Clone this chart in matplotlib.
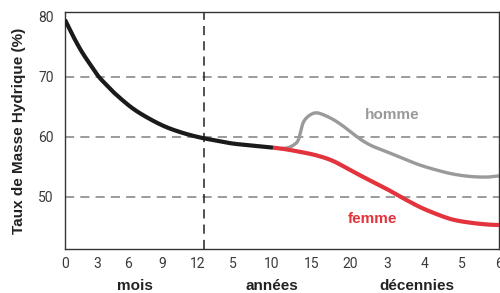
import matplotlib
matplotlib.use("Agg")
import matplotlib.pyplot as plt
import matplotlib.transforms as mtransforms
import numpy as np

# x en unités de position (échelle composite mois / années / décennies)
tick_pos = [0, 0.96, 1.89, 2.9, 3.98, 5.03, 6.2, 7.4, 8.53, 9.64, 10.78, 11.89, 13.0]
tick_labels = ["0", "3", "6", "9", "12", "5", "10", "15", "20", "3", "4", "5", "6"]
groups = ["mois", "années", "décennies"]
group_pos = [2.1, 6.2, 10.54]
split_12_mois = 4.16

common_x = [0, 0.25, 0.5, 0.75, 1.0, 1.25, 1.5, 2.0, 2.5, 3.0, 3.5, 4.0, 4.5, 5.0, 5.5, 6.23]
common_y = [79.5, 76.7, 74.2, 72.1, 70.1, 68.6, 67.2, 64.85, 63.1, 61.7, 60.7, 59.95, 59.4, 58.9, 58.6, 58.2]

femme_x = [6.23, 6.53, 7.04, 7.54, 8.02, 8.53, 9.04, 9.64, 10.12, 10.63, 11.14, 11.62, 12.13, 12.63, 13.0]
femme_y = [58.2, 58.0, 57.5, 56.9, 56.0, 54.5, 53.0, 51.3, 49.8, 48.3, 47.1, 46.2, 45.7, 45.4, 45.3]

homme_x = [6.45, 6.69, 6.89, 6.99, 7.06, 7.13, 7.24, 7.39, 7.54, 7.73, 8.03, 8.33, 8.63, 8.93, 9.23,
           9.64, 10.12, 10.63, 11.14, 11.62, 12.13, 12.63, 13.0]
homme_y = [58.0, 58.2, 58.8, 59.5, 60.9, 62.3, 63.2, 63.8, 64.0, 63.7, 62.9, 61.8, 60.5, 59.3, 58.4,
           57.5, 56.4, 55.3, 54.45, 53.8, 53.4, 53.3, 53.5]


def smooth(xs, ys, n=12):
    # courbe de Catmull-Rom passant par les points lus (tracé lissé)
    p = np.column_stack([xs, ys])
    p = np.vstack([p[0], p, p[-1]])
    out = []
    t = np.linspace(0, 1, n, endpoint=False)[:, None]
    for i in range(1, len(p) - 2):
        p0, p1, p2, p3 = p[i - 1], p[i], p[i + 1], p[i + 2]
        seg = 0.5 * ((2 * p1) + (-p0 + p2) * t + (2 * p0 - 5 * p1 + 4 * p2 - p3) * t ** 2
                     + (-p0 + 3 * p1 - 3 * p2 + p3) * t ** 3)
        out.append(seg)
    out.append(p[-2][None, :])
    out = np.vstack(out)
    return out[:, 0], out[:, 1]


plt.rcParams['font.family'] = ['Roboto', 'DejaVu Sans']
label_font = ['Liberation Sans', 'DejaVu Sans']

fig = plt.figure(figsize=(5, 2.93), dpi=100)
ax = fig.add_axes([0.13, 0.15, 0.868, 0.809])

# lignes de repère
for v in [50, 60, 70]:
    ax.axhline(v, color="#808080", lw=1.1, ls=(0, (6, 4)), zorder=1)
ax.axvline(split_12_mois, color="#222222", lw=1.1, ls=(0, (6, 4)), zorder=1)

ax.plot(*smooth(homme_x, homme_y), color="#9a9a9a", lw=2.4, solid_capstyle="butt", zorder=2)
ax.plot(*smooth(femme_x, femme_y), color="#e3333d", lw=3.0, solid_capstyle="butt", zorder=3)
ax.plot(*smooth(common_x, common_y), color="#1a1a1a", lw=3.0, solid_capstyle="butt", zorder=4)

ax.text(9.79, 63.6, "homme", color="#9a9a9a", fontsize=11, fontweight="bold", family=label_font,
        ha="center", va="center")
ax.text(9.22, 46.3, "femme", color="#e3333d", fontsize=11, fontweight="bold", family=label_font,
        ha="center", va="center")

ax.set_xlim(0, 13.0)
ax.set_ylim(41.3, 80.8)
ax.set_xticks(tick_pos)
ax.set_xticklabels(tick_labels)
ax.set_yticks([50, 60, 70, 80])
ax.tick_params(axis="both", length=0, labelsize=10, colors="#3a3a3a")
ax.tick_params(axis="x", pad=6)
ax.tick_params(axis="y", pad=8)

trans = mtransforms.blended_transform_factory(ax.transData, ax.transAxes)
for g, p in zip(groups, group_pos):
    ax.text(p, -0.155, g, transform=trans, ha="center", va="center", fontsize=11,
            fontweight="bold", family=label_font, color="#222222")

ax.set_ylabel("Taux de Masse Hydrique (%)", fontsize=11, fontweight="bold", family=label_font,
              color="#222222", labelpad=9)

for s in ax.spines.values():
    s.set_color("#333333")
    s.set_linewidth(1.0)

fig.savefig("out.png", dpi=100)
